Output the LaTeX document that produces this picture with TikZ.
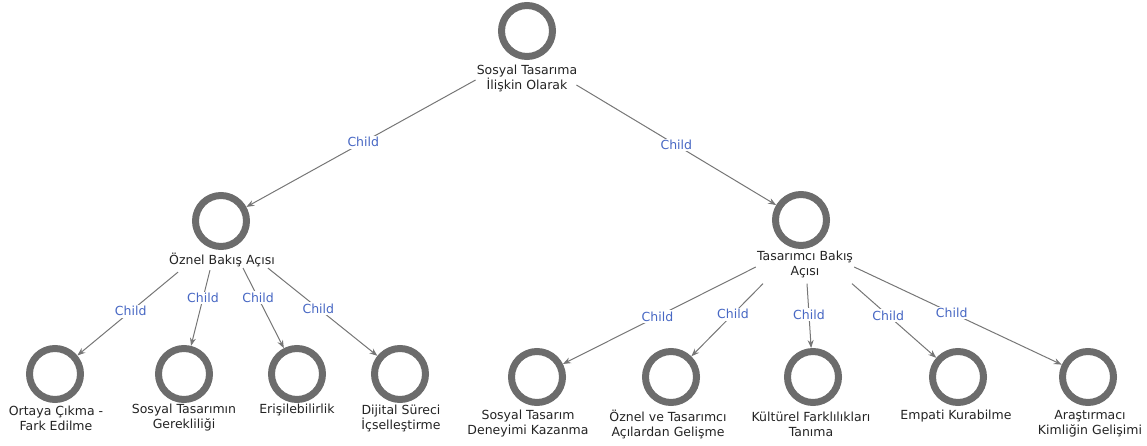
\documentclass[tikz,border=0pt]{standalone}
\usepackage{fontspec}
\setmainfont{DejaVu Sans}
\usetikzlibrary{arrows.meta}
\definecolor{ringgray}{RGB}{108,108,108}
\definecolor{edgegray}{RGB}{118,118,118}
\definecolor{txtdark}{RGB}{35,35,35}
\definecolor{childblue}{RGB}{72,104,196}
\begin{document}
\begin{tikzpicture}[x=1pt,y=-1pt,
  ring/.style={circle,draw=ringgray,line width=7pt,minimum size=51pt,inner sep=0pt},
  lbl/.style={align=center,text=txtdark,inner sep=1pt,font=\fontsize{12.5}{15}\selectfont},
  edge/.style={draw=edgegray,line width=1pt,-{Stealth[length=8pt,width=6pt]}},
  elbl/.style={text=childblue,fill=white,inner sep=1.5pt,font=\fontsize{12.5}{15}\selectfont}]
\useasboundingbox (0,0) rectangle (1147,446);

% root
\node[ring] (r0) at (527,31) {};
\node[lbl] (rootlbl) at (527,78) {Sosyal Tasarıma\\İlişkin Olarak};

% second level
\node[ring] (oz) at (221,221) {};
\node[lbl] (ozlbl) at (222,260) {Öznel Bakış Açısı};
\node[ring] (tz) at (801,220) {};
\node[lbl] (tzlbl) at (805,264) {Tasarımcı Bakış\\Açısı};

% leaves under Öznel Bakış Açısı
\node[ring] (a1) at (55,374) {};
\node[lbl] (a1lbl) at (56,418) {Ortaya Çıkma -\\Fark Edilme};
\node[ring] (a2) at (184,374) {};
\node[lbl] (a2lbl) at (184,418) {Sosyal Tasarımın\\Gerekliliği};
\node[ring] (a3) at (297,374) {};
\node[lbl] (a3lbl) at (297,410) {Erişilebilirlik};
\node[ring] (a4) at (400,374) {};
\node[lbl] (a4lbl) at (401,418) {Dijital Süreci\\İçselleştirme};

% leaves under Tasarımcı Bakış Açısı
\node[ring] (b1) at (537,377) {};
\node[lbl] (b1lbl) at (528,424) {Sosyal Tasarım\\Deneyimi Kazanma};
\node[ring] (b2) at (671,377) {};
\node[lbl] (b2lbl) at (668,424) {Öznel ve Tasarımcı\\Açılardan Gelişme};
\node[ring] (b3) at (813,377) {};
\node[lbl] (b3lbl) at (811,424) {Kültürel Farklılıkları\\Tanıma};
\node[ring] (b4) at (958,377) {};
\node[lbl] (b4lbl) at (956,416) {Empati Kurabilme};
\node[ring] (b5) at (1088,377) {};
\node[lbl] (b5lbl) at (1090,424) {Araştırmacı\\Kimliğin Gelişimi};

% connectors
\draw[edge] ([yshift=-2pt]rootlbl.west) -- node[elbl,pos=0.49] {Child} (oz);
\draw[edge] ([xshift=-2pt,yshift=-7pt]rootlbl.east) -- node[elbl,pos=0.50] {Child} (tz);

\draw[edge] ([xshift=-44pt,yshift=-4pt]ozlbl.south) -- node[elbl,pos=0.47] {Child} (a1);
\draw[edge] ([xshift=-12pt,yshift=-2pt]ozlbl.south) -- node[elbl,pos=0.37] {Child} (a2);
\draw[edge] ([xshift=21pt]ozlbl.south) -- node[elbl,pos=0.37] {Child} (a3);
\draw[edge] ([xshift=46pt]ozlbl.south) -- node[elbl,pos=0.46] {Child} (a4);

\draw[edge] ([yshift=-3pt]tzlbl.west) -- node[elbl,pos=0.51] {Child} (b1);
\draw[edge] ([xshift=-42pt,yshift=-5pt]tzlbl.south) -- node[elbl,pos=0.42] {Child} (b2);
\draw[edge] ([xshift=2pt,yshift=-5pt]tzlbl.south) -- node[elbl,pos=0.48] {Child} (b3);
\draw[edge] ([xshift=47pt,yshift=-5pt]tzlbl.south) -- node[elbl,pos=0.43] {Child} (b4);
\draw[edge] ([yshift=-3pt]tzlbl.east) -- node[elbl,pos=0.47] {Child} (b5);
\end{tikzpicture}
\end{document}
